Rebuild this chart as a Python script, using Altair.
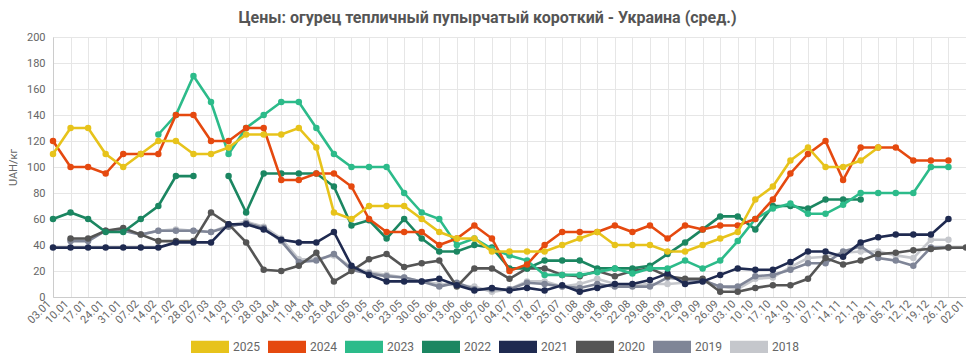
import altair as alt
import pandas as pd

weeks = ["03.01", "10.01", "17.01", "24.01", "31.01", "07.02", "14.02", "21.02", "28.02",
         "07.03", "14.03", "21.03", "28.03", "04.04", "11.04", "18.04", "25.04", "02.05",
         "09.05", "16.05", "23.05", "30.05", "06.06", "13.06", "20.06", "27.06", "04.07",
         "11.07", "18.07", "25.07", "01.08", "08.08", "15.08", "22.08", "29.08", "05.09",
         "12.09", "19.09", "26.09", "03.10", "10.10", "17.10", "24.10", "31.10", "07.11",
         "14.11", "21.11", "28.11", "05.12", "12.12", "19.12", "26.12", "02.01"]

N = None
y2025 = [110, 130, 130, 110, 100, 110, 120, 120, 110, 110, 115, 125, 125, 125, 130, 115, 65, 60,
         70, 70, 70, 60, 50, 45, 45, 35, 35, 35, 35, 40, 45, 50, 40, 40, 40, 35, 35, 40, 45, 50,
         75, 85, 105, 115, 100, 100, 105, 115, N, N, N, N, N]
y2024 = [120, 100, 100, 95, 110, 110, 110, 140, 140, 120, 120, 130, 130, 90, 90, 95, 95, 85,
         60, 50, 50, 50, 40, 45, 55, 45, 20, 25, 40, 50, 50, 50, 55, 50, 55, 45, 55, 52, 55, 55,
         60, 75, 95, 110, 120, 90, 115, 115, 115, 105, 105, 105, N]
y2023 = [N, N, N, N, N, N, 125, 140, 170, 150, 110, 130, 140, 150, 150, 130, 110, 100,
         100, 100, 80, 65, 60, 40, 45, 37, 32, 28, 17, 17, 17, 19, 22, 18, 22, 22, 28, 22, 28, 43,
         60, 68, 72, 64, 64, 71, 80, 80, 80, 80, 100, 100, N]
y2022 = [60, 65, 60, 50, 50, 60, 70, 93, 93, N, 93, 65, 95, 95, 95, 95, 85, 55,
         59, 45, 60, 45, 35, 35, 40, 38, 22, 22, 28, 28, 28, 22, 22, 22, 24, 33, 42, 52, 62, 62,
         52, 70, 70, 68, 75, 75, 75, N, N, N, N, N, N]
y2021 = [38, 38, 38, 38, 38, 38, 38, 42, 42, 42, 56, 56, 52, 44, 42, 42, 50, 24,
         17, 12, 12, 12, 14, 9, 5, 7, 5, 7, 5, 9, 4, 7, 10, 10, 13, 18, 10, 12, 17, 22,
         21, 21, 27, 35, 35, 31, 42, 46, 48, 48, 48, 60, N]
y2020 = [N, 45, 45, 51, 53, 48, 43, 43, 43, 65, 56, 42, 21, 20, 24, 34, 12, 20,
         29, 33, 23, 26, 28, 8, 22, 22, 14, 22, 22, 17, 16, 20, 16, 20, 22, 16, 14, 14, 4, 4,
         7, 9, 9, 14, 30, 25, 28, 33, 34, 36, 37, 38, 38]
y2019 = [N, 43, 43, 51, 51, 48, 51, 51, 51, 50, 54, 57, 53, 43, 27, 28, 33, 21,
         18, 16, 15, 12, 8, 11, 6, 6, 6, 11, 10, 8, 7, 10, 8, 8, 8, 15, 13, 13, 8, 8,
         16, 17, 21, 26, 26, 35, 39, 30, 28, 24, 38, 38, N]
y2018 = [N, 44, 44, 51, 52, 48, 51, 52, 51, 50, 55, 58, 54, 45, 29, 29, 32, 23,
         19, 17, 15, 12, 10, 9, 8, 4, 6, 12, 12, 8, 10, 14, 10, 9, 10, 10, 11, 12, 8, 6,
         14, 15, 23, 30, 31, 34, 35, 35, 32, 30, 44, 44, N]

years = ["2025", "2024", "2023", "2022", "2021", "2020", "2019", "2018"]
series = [y2025, y2024, y2023, y2022, y2021, y2020, y2019, y2018]
colors = ["#e7c31b", "#e5490f", "#2cbb8a", "#1b8661", "#1f2a50", "#555555", "#7f8597", "#c5c7cc"]

color_scale = alt.Scale(domain=years, range=colors)
x_enc = alt.X("week:O", sort=weeks,
              scale=alt.Scale(domain=weeks, type="point", padding=0),
              axis=alt.Axis(title=None, labelAngle=-45, labelFontSize=11, labelColor="#666",
                            labelFont="Roboto", ticks=False, domainColor="#cccccc",
                            labelAlign="right", labelBaseline="middle", labelOffset=-4,
                            grid=True, gridColor="#e6e6e6", labelPadding=5))
y_enc = alt.Y("value:Q", scale=alt.Scale(domain=[0, 200]),
              axis=alt.Axis(values=list(range(0, 201, 20)), title="UAH/кг", titleFontSize=11,
                            titleFont="Roboto", titleFontWeight="normal", titleColor="#666",
                            titlePadding=8, labelFontSize=11, labelColor="#666",
                            labelFont="Roboto", ticks=False, domainColor="#cccccc",
                            gridColor="#e6e6e6", labelPadding=8))

legend = alt.Legend(title=None, orient="none", legendX=138, legendY=291, direction="horizontal",
                    columns=8, symbolType="M-1,-0.34L1,-0.34L1,0.34L-1,0.34Z", symbolSize=1444,
                    symbolStrokeWidth=0, symbolOpacity=1, labelFontSize=12, labelColor="#666",
                    labelFont="Roboto", labelOffset=4, columnPadding=8)

layers = []
for yr, vals, col in reversed(list(zip(years, series, colors))):
    df = pd.DataFrame({"week": weeks, "value": vals, "year": yr})
    base = alt.Chart(df)
    line = base.mark_line(strokeWidth=2.6, invalid="break-paths-filter-domains").encode(
        x=x_enc, y=y_enc, color=alt.value(col))
    pts = base.transform_filter("datum.value != null").mark_circle(size=42, opacity=1).encode(
        x=x_enc, y=y_enc,
        color=alt.Color("year:N", scale=color_scale, sort=years, legend=legend))
    layers += [line, pts]

chart = alt.layer(*layers).properties(
    width=913, height=260,
    autosize=alt.AutoSizeParams(type="none"),
    padding={"left": 45, "top": 29, "right": 0, "bottom": 56},
    title=alt.TitleParams(text="Цены: огурец тепличный пупырчатый короткий - Украина (сред.)",
                          fontSize=16, fontWeight="bold", color="#555", font="Roboto",
                          anchor="middle", dx=-22, offset=5),
).configure_view(stroke=None).configure(font="Roboto")

chart.save("out.html", embed_options={"renderer": "svg", "actions": False})
